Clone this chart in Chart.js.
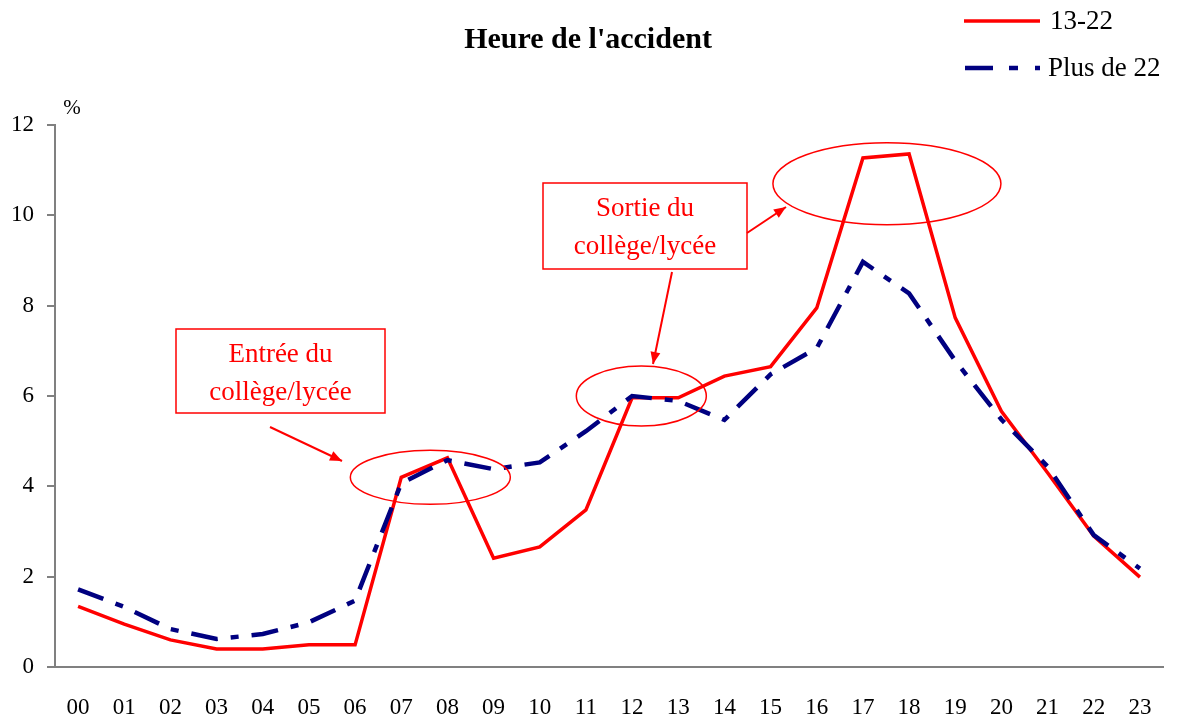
<!DOCTYPE html>
<html>
<head>
<meta charset="utf-8">
<script src="https://cdn.jsdelivr.net/npm/chart.js@4.4.1/dist/chart.umd.min.js"></script>
<style>
html,body{margin:0;padding:0;background:#fff;}
#wrap{width:1177px;height:718px;}
</style>
</head>
<body>
<div id="wrap"><canvas id="c" width="1177" height="718"></canvas></div>
<script>
const hours = ['00','01','02','03','04','05','06','07','08','09','10','11','12','13','14','15','16','17','18','19','20','21','22','23'];
const young = [1.34, 0.95, 0.6, 0.4, 0.4, 0.49, 0.49, 4.2, 4.63, 2.41, 2.66, 3.48, 5.96, 5.96, 6.44, 6.65, 7.95, 11.27, 11.36, 7.73, 5.66, 4.3, 2.9, 1.99];
const older = [1.72, 1.33, 0.84, 0.62, 0.73, 0.99, 1.47, 4.07, 4.58, 4.38, 4.53, 5.22, 6.0, 5.89, 5.47, 6.48, 7.06, 8.97, 8.27, 6.78, 5.48, 4.44, 2.92, 2.18];
const seriesNames = ['13-22', 'Plus de 22'];
const yTicks = [0, 2, 4, 6, 8, 10, 12];
const titleText = "Heure de l'accident";
const unitText = '%';
const notes = [
  {lines:['Entrée du','collège/lycée']},
  {lines:['Sortie du','collège/lycée']}
];

const SERIF = "'Liberation Serif','Times New Roman',serif";
const RED = '#ff0000';
const NAVY = '#000080';
const BLUE_DASH = [27, 13, 8, 13];

const overlay = {
  id: 'overlay',
  afterDraw(chart) {
    const c = chart.ctx;
    const xs = chart.scales.x, ys = chart.scales.y;
    c.save();
    // title
    c.fillStyle = '#000';
    c.font = "bold 30px " + SERIF;
    c.textAlign = 'center';
    c.textBaseline = 'middle';
    c.fillText(titleText, 588, 40);
    // unit
    c.font = "21px " + SERIF;
    c.fillText(unitText, 72, 108);
    // legend
    c.lineWidth = 3.5;
    c.strokeStyle = RED;
    c.setLineDash([]);
    c.beginPath(); c.moveTo(964, 21); c.lineTo(1040, 21); c.stroke();
    c.strokeStyle = NAVY;
    c.lineWidth = 4.5;
    c.setLineDash([28, 16, 9, 17, 8, 100]);
    c.beginPath(); c.moveTo(965, 68); c.lineTo(1040, 68); c.stroke();
    c.setLineDash([]);
    c.fillStyle = '#000';
    c.font = "27px " + SERIF;
    c.textAlign = 'left';
    c.fillText(seriesNames[0], 1050, 22);
    c.fillText(seriesNames[1], 1048, 69);

    // annotations
    c.strokeStyle = RED;
    c.fillStyle = RED;
    c.lineWidth = 1.5;
    const ell = (xv, yv, rx, ry) => {
      c.beginPath();
      c.ellipse(xs.getPixelForValue(xv), ys.getPixelForValue(yv), rx, ry, 0, 0, Math.PI * 2);
      c.stroke();
    };
    ell(7.63, 4.2, 80, 27);
    ell(12.2, 6.0, 65, 30);
    ell(17.52, 10.7, 114, 41);

    const box = (x1, y1, x2, y2, lines) => {
      c.lineWidth = 1.5;
      c.strokeRect(x1, y1, x2 - x1, y2 - y1);
      c.font = "27px " + SERIF;
      c.textAlign = 'center';
      c.textBaseline = 'middle';
      const cx = (x1 + x2) / 2;
      c.fillText(lines[0], cx, y1 + 26);
      c.fillText(lines[1], cx, y1 + 64);
    };
    box(176, 329, 385, 413, notes[0].lines);
    box(543, 183, 747, 269, notes[1].lines);

    const arrow = (x1, y1, x2, y2) => {
      c.lineWidth = 2;
      c.beginPath(); c.moveTo(x1, y1); c.lineTo(x2, y2); c.stroke();
      const a = Math.atan2(y2 - y1, x2 - x1);
      const L = 12, W = 5;
      c.beginPath();
      c.moveTo(x2, y2);
      c.lineTo(x2 - L * Math.cos(a) + W * Math.sin(a), y2 - L * Math.sin(a) - W * Math.cos(a));
      c.lineTo(x2 - L * Math.cos(a) - W * Math.sin(a), y2 - L * Math.sin(a) + W * Math.cos(a));
      c.closePath(); c.fill();
    };
    arrow(270, 427, 342, 461);
    arrow(672, 272, 653, 364);
    arrow(747, 233, 786, 207);
    c.restore();
  }
};

new Chart(document.getElementById('c'), {
  type: 'line',
  data: {
    labels: hours,
    datasets: [
      {label: seriesNames[1], data: older, borderColor: NAVY, borderWidth: 4.5, borderDash: BLUE_DASH, pointRadius: 0, tension: 0, fill: false},
      {label: seriesNames[0], data: young, borderColor: RED, borderWidth: 3.5, pointRadius: 0, tension: 0, fill: false}
    ]
  },
  options: {
    responsive: false,
    animation: false,
    devicePixelRatio: 1,
    layout: {padding: {top: 125, right: 14, left: 0, bottom: 0}},
    plugins: {legend: {display: false}, title: {display: false}, tooltip: {enabled: false}},
    scales: {
      x: {
        type: 'category',
        offset: true,
        grid: {display: false},
        border: {display: true, color: '#808080', width: 2},
        ticks: {color: '#000', font: {family: SERIF, size: 23}, padding: 19, maxRotation: 0, autoSkip: false},
        afterFit(s) { s.height = 51; }
      },
      y: {
        min: 0, max: 12,
        afterBuildTicks(s) { s.ticks = yTicks.map(v => ({value: v})); },
        grid: {drawOnChartArea: false, drawTicks: true, tickLength: 8, color: '#808080', lineWidth: 2},
        border: {display: true, color: '#808080', width: 2},
        ticks: {color: '#000', font: {family: SERIF, size: 23}, padding: 13},
        afterFit(s) { s.width = 55; }
      }
    }
  },
  plugins: [overlay]
});
</script>
</body>
</html>
